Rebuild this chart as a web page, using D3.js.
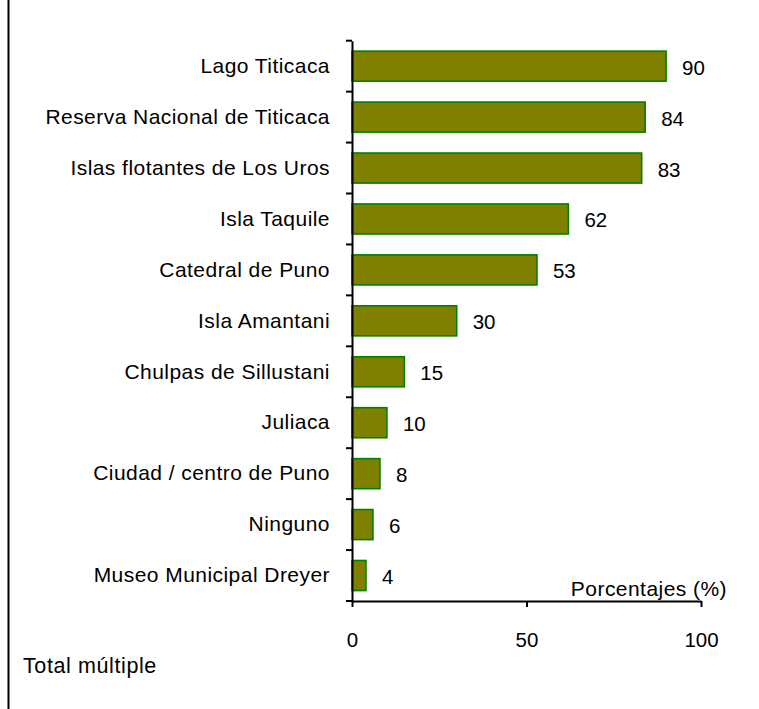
<!DOCTYPE html>
<html>
<head>
<meta charset="utf-8">
<script src="https://cdn.jsdelivr.net/npm/d3@7"></script>
<style>
  html, body { margin: 0; padding: 0; background: #fff; }
  svg { display: block; font-family: "Liberation Sans", Arial, sans-serif; }
</style>
</head>
<body>
<svg id="chart" width="759" height="709"></svg>
<script>
const categories = [
  "Lago Titicaca",
  "Reserva Nacional de Titicaca",
  "Islas flotantes de Los Uros",
  "Isla Taquile",
  "Catedral de Puno",
  "Isla Amantani",
  "Chulpas de Sillustani",
  "Juliaca",
  "Ciudad / centro de Puno",
  "Ninguno",
  "Museo Municipal Dreyer"
];
const values = [90, 84, 83, 62, 53, 30, 15, 10, 8, 6, 4];
const xTicks = [0, 50, 100];
const xAxisTitle = "Porcentajes (%)";
const footnote = "Total múltiple";

const svg = d3.select("#chart");
const numSize = 20.5;
const textSize = 21;
const spacing = 0.45;

// frame line on left
svg.append("line")
  .attr("x1", 8.5).attr("x2", 8.5).attr("y1", 0).attr("y2", 709)
  .attr("stroke", "#000").attr("stroke-width", 2);

const x = d3.scaleLinear().domain([0, 100]).range([352, 701]);
const y = d3.scaleBand().domain(categories).range([40.7, 601])
  .paddingInner(0.41).paddingOuter(0.205);

// bars
svg.append("g").selectAll("rect")
  .data(categories)
  .join("rect")
  .attr("x", x(0))
  .attr("y", d => y(d))
  .attr("width", (d, i) => x(values[i]) - x(0))
  .attr("height", y.bandwidth())
  .attr("fill", "#808000")
  .attr("stroke", "#008000")
  .attr("stroke-width", 1.6);

// value labels
svg.append("g").selectAll("text")
  .data(categories)
  .join("text")
  .attr("x", (d, i) => x(values[i]) + 16)
  .attr("y", d => y(d) + y.bandwidth() / 2 + 1)
  .attr("dominant-baseline", "central")
  .attr("font-size", numSize)
  .attr("fill", "#000")
  .text((d, i) => values[i]);

// y axis with category labels
const yAxis = svg.append("g")
  .attr("transform", `translate(${x(0)},0)`)
  .call(d3.axisLeft(y).tickSize(0).tickPadding(22));
yAxis.select(".domain").attr("stroke", "#000").attr("stroke-width", 2);
yAxis.selectAll("text")
  .attr("font-size", textSize)
  .attr("letter-spacing", spacing)
  .attr("font-family", "Liberation Sans, Arial, sans-serif")
  .attr("fill", "#000");

// y tick marks at category boundaries
const bounds = d3.range(categories.length + 1).map(i => y.range()[0] + i * y.step());
svg.append("g").selectAll("line")
  .data(bounds)
  .join("line")
  .attr("x1", x(0) - 6).attr("x2", x(0))
  .attr("y1", d => d).attr("y2", d => d)
  .attr("stroke", "#000").attr("stroke-width", 2);

// x axis
const xAxis = svg.append("g")
  .attr("transform", `translate(0,${601})`)
  .call(d3.axisBottom(x).tickValues(xTicks).tickSize(6).tickSizeOuter(0).tickPadding(25));
xAxis.select(".domain").attr("stroke", "#000").attr("stroke-width", 2);
xAxis.selectAll(".tick line").attr("stroke", "#000").attr("stroke-width", 2);
xAxis.selectAll("text")
  .attr("font-size", numSize)
  .attr("font-family", "Liberation Sans, Arial, sans-serif")
  .attr("fill", "#000");

// axis title
svg.append("text")
  .attr("x", 727).attr("y", 596)
  .attr("text-anchor", "end")
  .attr("font-size", textSize)
  .attr("letter-spacing", spacing)
  .attr("fill", "#000")
  .text(xAxisTitle);

// footnote
svg.append("text")
  .attr("x", 23).attr("y", 673)
  .attr("font-size", 21.5)
  .attr("letter-spacing", 0.6)
  .attr("fill", "#000")
  .text(footnote);
</script>
</body>
</html>
